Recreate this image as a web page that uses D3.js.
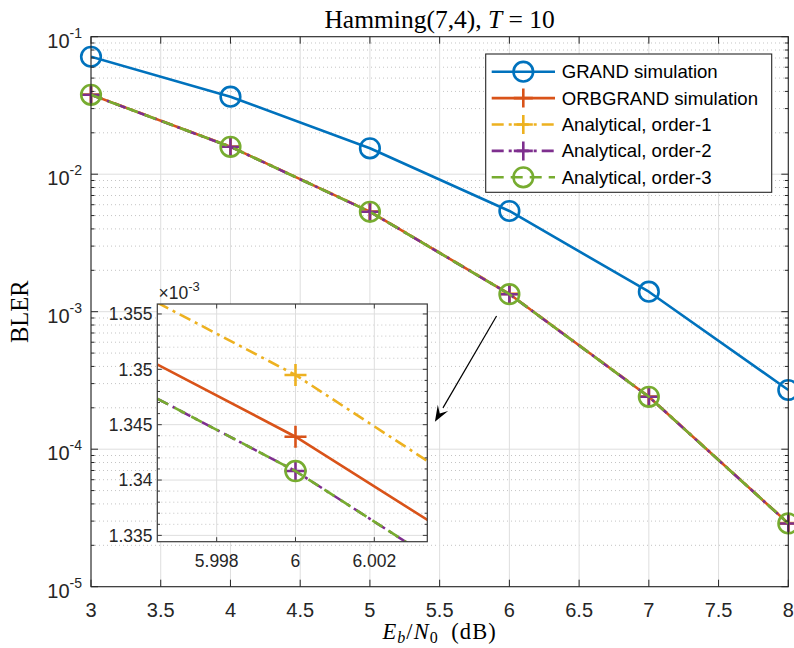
<!DOCTYPE html>
<html><head><meta charset="utf-8">
<script src="https://cdn.jsdelivr.net/npm/d3@7"></script>
<style>body{margin:0;background:#fff} svg{display:block}</style>
</head><body><svg id="c" width="794" height="648"></svg>
<script>
// ---------- data ----------
const snr = [3, 4, 5, 6, 7, 8];
const grandSim    = [0.0715, 0.0366, 0.01543, 0.0054, 0.001398, 2.695e-4];
const orbgrandSim = [0.03786, 0.01585, 0.00534, 0.001344, 2.41e-4, 2.89e-5];
const analytic1   = [0.03800, 0.01590, 0.00536, 0.0013495, 2.42e-4, 2.90e-5];
const analytic2   = [0.03780, 0.01582, 0.00533, 0.0013408, 2.405e-4, 2.885e-5];
const analytic3   = [0.03780, 0.01582, 0.00533, 0.0013408, 2.405e-4, 2.885e-5];
const seriesNames = ["GRAND simulation", "ORBGRAND simulation", "Analytical, order-1", "Analytical, order-2", "Analytical, order-3"];
const xTicks = [3, 3.5, 4, 4.5, 5, 5.5, 6, 6.5, 7, 7.5, 8];
const yTickExps = [-5, -4, -3, -2, -1];

// inset (values in units of 1e-3)
const insetX   = [5.9965, 6, 6.0034];
const insetORB = [1.35043, 1.34391, 1.33628];
const insetA1  = [1.35601, 1.34949, 1.34160];
const insetA2  = [1.34733, 1.34081, 1.33304];
const insetA3  = [1.34733, 1.34081, 1.33304];
const insetXTicks = [5.998, 6, 6.002];
const insetYTicks = [1.335, 1.34, 1.345, 1.35, 1.355];
const insetMarkerX = 6;

// arrow annotation (data coordinates of main axes)
const arrowFrom = [5.908, 9.3e-4];
const arrowTo   = [5.466, 1.585e-4];

// ---------- styles ----------
const styles = [
  {color:"#0072BD", dash:null,        marker:"o"},
  {color:"#D95319", dash:null,        marker:"+"},
  {color:"#EDB120", dash:"12,5,3,5",  marker:"+"},
  {color:"#7E2F8E", dash:"12,5,3,5",  marker:"+"},
  {color:"#77AC30", dash:"12,7",      marker:"o"}
];
const mainData = [grandSim, orbgrandSim, analytic1, analytic2, analytic3];
const insetData = [null, insetORB, insetA1, insetA2, insetA3];
const LW = 2.6;
const SANS = "'Liberation Sans', Arial, Helvetica, sans-serif";
const SERIF = "'Liberation Serif', 'Times New Roman', serif";
const AX = "#262626";

const svg = d3.select("#c");
svg.append("rect").attr("width",794).attr("height",648).attr("fill","#fff");

// ---------- main axes ----------
const L = 91, R = 788.3, T = 36.7, B = 586.7;
const x = d3.scaleLinear().domain([3, 8]).range([L, R]);
const y = d3.scaleLog().domain([1e-5, 1e-1]).range([B, T]);

const g = svg.append("g");
g.append("rect").attr("x",L).attr("y",T).attr("width",R-L).attr("height",B-T).attr("fill","#fff");

// minor grid
const minorVals = [];
for (let d = -5; d < -1; d++) for (let k = 2; k <= 9; k++) minorVals.push(k * Math.pow(10, d));
g.append("g").selectAll("line").data(minorVals).join("line")
  .attr("x1",L).attr("x2",R).attr("y1",d=>y(d)).attr("y2",d=>y(d))
  .attr("stroke","#c4c4c4").attr("stroke-width",1).attr("stroke-dasharray","1,3");
// major grid
g.append("g").selectAll("line").data(xTicks).join("line")
  .attr("x1",d=>x(d)).attr("x2",d=>x(d)).attr("y1",T).attr("y2",B)
  .attr("stroke","#dedede").attr("stroke-width",1);
g.append("g").selectAll("line").data(yTickExps).join("line")
  .attr("x1",L).attr("x2",R).attr("y1",d=>y(Math.pow(10,d))).attr("y2",d=>y(Math.pow(10,d)))
  .attr("stroke","#dedede").attr("stroke-width",1);

function drawMarker(sel, type, cx, cy, color, size) {
  if (type === "o") {
    sel.append("circle").attr("cx",cx).attr("cy",cy).attr("r",size)
      .attr("fill","none").attr("stroke",color).attr("stroke-width",LW);
  } else {
    const s = size;
    sel.append("path").attr("d",`M${cx-s},${cy}H${cx+s}M${cx},${cy-s}V${cy+s}`)
      .attr("fill","none").attr("stroke",color).attr("stroke-width",LW);
  }
}

// data series
const clipMain = svg.append("clipPath").attr("id","clipMain");
clipMain.append("rect").attr("x",L).attr("y",T).attr("width",R-L).attr("height",B-T);
const line = d3.line().x(d=>x(d[0])).y(d=>y(d[1]));
mainData.forEach((vals, i) => {
  const st = styles[i];
  const pts = snr.map((s, j) => [s, vals[j]]);
  g.append("path").attr("d", line(pts)).attr("clip-path","url(#clipMain)")
    .attr("fill","none").attr("stroke",st.color).attr("stroke-width",LW)
    .attr("stroke-dasharray", st.dash).attr("stroke-linejoin","round");
  const mg = g.append("g");
  pts.forEach(p => drawMarker(mg, st.marker, x(p[0]), y(p[1]), st.color, st.marker==="o" ? 9.8 : 9.5));
});

// axes box & ticks
const axg = svg.append("g");
axg.append("rect").attr("x",L).attr("y",T).attr("width",R-L).attr("height",B-T)
  .attr("fill","none").attr("stroke",AX).attr("stroke-width",1.1);
xTicks.forEach(t => {
  axg.append("line").attr("x1",x(t)).attr("x2",x(t)).attr("y1",B).attr("y2",B-7).attr("stroke",AX);
  axg.append("line").attr("x1",x(t)).attr("x2",x(t)).attr("y1",T).attr("y2",T+7).attr("stroke",AX);
  axg.append("text").attr("x",x(t)).attr("y",B+30.5).attr("text-anchor","middle")
    .attr("font-family",SANS).attr("font-size",20).attr("fill",AX).text(d3.format("~g")(t));
});
yTickExps.forEach(e => {
  const yy = y(Math.pow(10,e));
  axg.append("line").attr("x1",L).attr("x2",L+7).attr("y1",yy).attr("y2",yy).attr("stroke",AX);
  axg.append("line").attr("x1",R).attr("x2",R-7).attr("y1",yy).attr("y2",yy).attr("stroke",AX);
  const t = axg.append("text").attr("x",82).attr("y",yy+11).attr("text-anchor","end")
    .attr("font-family",SANS).attr("font-size",20).attr("fill",AX);
  t.append("tspan").text("10");
  t.append("tspan").attr("font-size",14).attr("dy",-10).text(String(e));
});
minorVals.forEach(v => {
  const yy = y(v);
  axg.append("line").attr("x1",L).attr("x2",L+3.5).attr("y1",yy).attr("y2",yy).attr("stroke",AX);
  axg.append("line").attr("x1",R).attr("x2",R-3.5).attr("y1",yy).attr("y2",yy).attr("stroke",AX);
});

// title
const title = svg.append("text").attr("x",(L+R)/2).attr("y",28).attr("text-anchor","middle")
  .attr("font-family",SERIF).attr("font-size",25.5).attr("fill","#000");
title.append("tspan").text("Hamming(7,4), ");
title.append("tspan").attr("font-style","italic").text("T");
title.append("tspan").text(" = 10");

// y label
svg.append("text").attr("transform",`translate(28.3,${(T+B)/2}) rotate(-90)`).attr("text-anchor","middle")
  .attr("font-family",SERIF).attr("font-size",24.5).attr("fill","#000").text("BLER");

// x label
const xl = svg.append("text").attr("x",(L+R)/2).attr("y",639).attr("text-anchor","middle")
  .attr("font-family",SERIF).attr("font-size",22.5).attr("letter-spacing",1.1).attr("fill","#000");
xl.append("tspan").attr("font-style","italic").text("E");
xl.append("tspan").attr("font-style","italic").attr("font-size",16).attr("dy",4).text("b");
xl.append("tspan").attr("dy",-4).text("/");
xl.append("tspan").attr("font-style","italic").text("N");
xl.append("tspan").attr("font-size",16).attr("dy",4).text("0");
xl.append("tspan").attr("dy",-4).text("\u2002(dB)");

// ---------- legend ----------
const lg = svg.append("g");
const LX0 = 485.7, LY0 = 54, LX1 = 771.7, LY1 = 192.3;
lg.append("rect").attr("x",LX0).attr("y",LY0).attr("width",LX1-LX0).attr("height",LY1-LY0)
  .attr("fill","#fff").attr("stroke",AX).attr("stroke-width",1.1);
seriesNames.forEach((name, i) => {
  const st = styles[i];
  const yy = 71.7 + i * 26.4;
  lg.append("line").attr("x1",491.7).attr("x2",555).attr("y1",yy).attr("y2",yy)
    .attr("stroke",st.color).attr("stroke-width",LW).attr("stroke-dasharray",st.dash);
  drawMarker(lg, st.marker, 523.3, yy, st.color, st.marker==="o" ? 9.8 : 9.5);
  lg.append("text").attr("x",561.7).attr("y",yy).attr("dy","0.35em")
    .attr("font-family",SANS).attr("font-size",18.6).attr("fill","#000").text(name);
});

// ---------- inset ----------
const iL = 157.3, iR = 427.3, iT = 304, iB = 541.7;
const ix = d3.scaleLinear().domain([5.996493, 6.003345]).range([iL, iR]);
const iy = d3.scaleLinear().domain([1.33443, 1.35590]).range([iB, iT]);
const ig = svg.append("g");
ig.append("rect").attr("x",iL).attr("y",iT).attr("width",iR-iL).attr("height",iB-iT).attr("fill","#fff");
const iMinor = [];
for (let v = 1.335; v < 1.3559; v += 0.001) iMinor.push(+v.toFixed(4));
const iMinorOnly = iMinor.filter(v => !insetYTicks.some(t => Math.abs(t - v) < 1e-6));
ig.append("g").selectAll("line").data(iMinorOnly).join("line")
  .attr("x1",iL).attr("x2",iR).attr("y1",d=>iy(d)).attr("y2",d=>iy(d))
  .attr("stroke","#c4c4c4").attr("stroke-dasharray","1,3");
ig.append("g").selectAll("line").data(insetXTicks).join("line")
  .attr("x1",d=>ix(d)).attr("x2",d=>ix(d)).attr("y1",iT).attr("y2",iB).attr("stroke","#dedede");
ig.append("g").selectAll("line").data(insetYTicks).join("line")
  .attr("x1",iL).attr("x2",iR).attr("y1",d=>iy(d)).attr("y2",d=>iy(d)).attr("stroke","#dedede");

const clipIn = svg.append("clipPath").attr("id","clipIn");
clipIn.append("rect").attr("x",iL).attr("y",iT).attr("width",iR-iL).attr("height",iB-iT);
const iline = d3.line().x(d=>ix(d[0])).y(d=>iy(d[1]));
insetData.forEach((vals, i) => {
  if (!vals) return;
  const st = styles[i];
  const pts = insetX.map((s, j) => [s, vals[j]]);
  ig.append("path").attr("d", iline(pts)).attr("clip-path","url(#clipIn)")
    .attr("fill","none").attr("stroke",st.color).attr("stroke-width",LW)
    .attr("stroke-dasharray", st.dash);
  const mi = insetX.indexOf(insetMarkerX);
  drawMarker(ig, st.marker, ix(insetMarkerX), iy(vals[mi]), st.color, st.marker==="o" ? 10 : 11);
});
const IAX = "#3a3a3a";
ig.append("rect").attr("x",iL).attr("y",iT).attr("width",iR-iL).attr("height",iB-iT)
  .attr("fill","none").attr("stroke",IAX).attr("stroke-width",1.2);
insetXTicks.forEach(t => {
  ig.append("line").attr("x1",ix(t)).attr("x2",ix(t)).attr("y1",iB).attr("y2",iB-4.5).attr("stroke",IAX);
  ig.append("line").attr("x1",ix(t)).attr("x2",ix(t)).attr("y1",iT).attr("y2",iT+4.5).attr("stroke",IAX);
  ig.append("text").attr("x",ix(t)).attr("y",iB+25.5).attr("text-anchor","middle")
    .attr("font-family",SANS).attr("font-size",17.5).attr("fill",AX).text(d3.format("~g")(t));
});
insetYTicks.forEach(t => {
  ig.append("line").attr("x1",iL).attr("x2",iL+4.5).attr("y1",iy(t)).attr("y2",iy(t)).attr("stroke",IAX);
  ig.append("line").attr("x1",iR).attr("x2",iR-4.5).attr("y1",iy(t)).attr("y2",iy(t)).attr("stroke",IAX);
  ig.append("text").attr("x",152.5).attr("y",iy(t)).attr("dy","0.36em").attr("text-anchor","end")
    .attr("font-family",SANS).attr("font-size",17.5).attr("fill",AX).text(d3.format("~g")(t));
});
iMinorOnly.forEach(v => {
  ig.append("line").attr("x1",iL).attr("x2",iL+2.7).attr("y1",iy(v)).attr("y2",iy(v)).attr("stroke",IAX);
  ig.append("line").attr("x1",iR).attr("x2",iR-2.7).attr("y1",iy(v)).attr("y2",iy(v)).attr("stroke",IAX);
});
const ex = ig.append("text").attr("x",158.5).attr("y",298.5)
  .attr("font-family",SANS).attr("font-size",17.5).attr("fill",AX);
ex.append("tspan").text("×10");
ex.append("tspan").attr("font-size",13).attr("dy",-8).text("-3");

// ---------- arrow ----------
const ax1 = x(arrowFrom[0]), ay1 = y(arrowFrom[1]), ax2 = x(arrowTo[0]), ay2 = y(arrowTo[1]);
const ang = Math.atan2(ay2 - ay1, ax2 - ax1);
const hl = 16, hw = 6;
const bx = ax2 - hl * Math.cos(ang), by = ay2 - hl * Math.sin(ang);
svg.append("line").attr("x1",ax1).attr("y1",ay1).attr("x2",bx).attr("y2",by)
  .attr("stroke","#000").attr("stroke-width",1.2);
const px = -Math.sin(ang), py = Math.cos(ang);
const ib = 0.6;
svg.append("path").attr("d",
  `M${ax2},${ay2}L${bx + hw*px},${by + hw*py}L${ax2 - hl*ib*Math.cos(ang)},${ay2 - hl*ib*Math.sin(ang)}L${bx - hw*px},${by - hw*py}Z`)
  .attr("fill","#000");
</script>
</body></html>
